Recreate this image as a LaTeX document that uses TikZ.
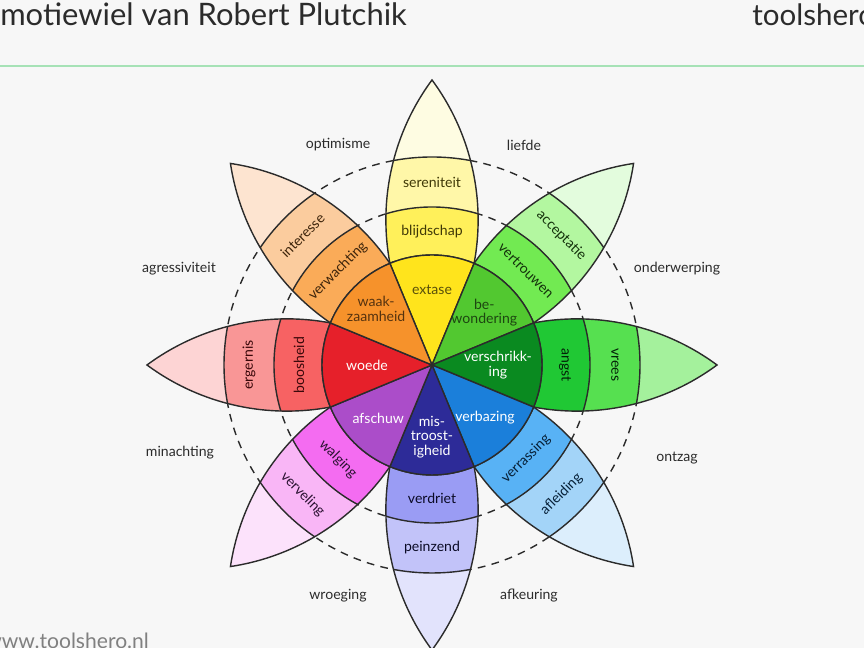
\documentclass[tikz,border=0pt]{standalone}
\usepackage{fontspec}
\setmainfont{Lato}

\definecolor{bg}{HTML}{F7F7F7}
\definecolor{rule}{HTML}{A6E2B6}
\definecolor{ink}{HTML}{2B2B2B}
\definecolor{yel0}{HTML}{FFE41C}
\definecolor{yel1}{HTML}{FFF05A}
\definecolor{yel2}{HTML}{FFF7A8}
\definecolor{yel3}{HTML}{FEFCE2}
\definecolor{grn0}{HTML}{52C830}
\definecolor{grn1}{HTML}{72EA52}
\definecolor{grn2}{HTML}{B3F7A0}
\definecolor{grn3}{HTML}{E3FCDD}
\definecolor{dgr0}{HTML}{0A8A20}
\definecolor{dgr1}{HTML}{20C834}
\definecolor{dgr2}{HTML}{56E050}
\definecolor{dgr3}{HTML}{A4F19C}
\definecolor{blu0}{HTML}{1B7FDA}
\definecolor{blu1}{HTML}{58B2F5}
\definecolor{blu2}{HTML}{A3D4F8}
\definecolor{blu3}{HTML}{DCEEFC}
\definecolor{ind0}{HTML}{2D2B98}
\definecolor{ind1}{HTML}{9A9CF4}
\definecolor{ind2}{HTML}{C2C3F9}
\definecolor{ind3}{HTML}{E2E3FC}
\definecolor{pur0}{HTML}{AB4DC9}
\definecolor{pur1}{HTML}{F46CF1}
\definecolor{pur2}{HTML}{F9B6F6}
\definecolor{pur3}{HTML}{FCE2FB}
\definecolor{red0}{HTML}{E6202A}
\definecolor{red1}{HTML}{F76263}
\definecolor{red2}{HTML}{F99696}
\definecolor{red3}{HTML}{FDD4D4}
\definecolor{org0}{HTML}{F6922B}
\definecolor{org1}{HTML}{FAAB58}
\definecolor{org2}{HTML}{FBCC9E}
\definecolor{org3}{HTML}{FDE4D0}

\begin{document}
\begin{tikzpicture}[
  x=0.025cm, y=0.025cm,
  every node/.style={font=\fontsize{10}{10.5}\selectfont, inner sep=1pt},
  rim/.style={draw=ink, line width=1pt},
  ring/.style={draw=ink, line width=1pt, dash pattern=on 5.5pt off 4.5pt},
  petal/.style={insert path={(-22.5:110)
    arc[start angle=-100.62, end angle=-53.53, radius=235.53]
    arc[start angle=53.53, end angle=100.62, radius=235.53]
    arc[start angle=22.5, end angle=-22.5, radius=110] -- cycle}},
  dyad/.style={text=ink},
  core/.style={align=center}
]
\fill[bg] (0,0) rectangle (864,648);
\useasboundingbox (0,0) rectangle (864,648);
\clip (0,0) rectangle (864,648);

% header and footer
\node[anchor=base west, inner sep=0pt, font=\fontsize{22}{24}\selectfont, text=ink] (title) at (0,622) {motiewiel van Robert Plutchik};
\node[anchor=base west, inner sep=0pt, font=\fontsize{21}{24}\selectfont, text=ink] (brand) at (752,622) {toolshero};
\draw[rule, line width=2pt] (0,582) -- (864,582);
\node[anchor=base west, inner sep=0pt, font=\fontsize{15}{16}\selectfont, text=black!50] (site) at (-15,-1) {www.toolshero.nl};

% dyads
\node[dyad] (optimisme) at (338,503) {optimisme};
\node[dyad] (liefde) at (524,503) {liefde};
\node[dyad] (onderwerping) at (677,379) {onderwerping};
\node[dyad] (ontzag) at (677,190) {ontzag};
\node[dyad] (afkeuring) at (529,52) {afkeuring};
\node[dyad] (wroeging) at (338,52) {wroeging};
\node[dyad] (minachting) at (180,195) {minachting};
\node[dyad] (agressiviteit) at (179,379) {agressiviteit};

\begin{scope}[shift={(432,283)}]
  \draw[ring] (0,0) circle (158) (0,0) circle (208);

  % petals
  \foreach \a/\cin/\cmid/\cout/\ctip/\lmid/\lout/\r [count=\i] in {
    90/yel0/yel1/yel2/yel3/blijdschap/sereniteit/0,
    45/grn0/grn1/grn2/grn3/vertrouwen/acceptatie/-45,
    0/dgr0/dgr1/dgr2/dgr3/angst/vrees/-90,
    -45/blu0/blu1/blu2/blu3/verrassing/afleiding/45,
    -90/ind0/ind1/ind2/ind3/verdriet/peinzend/0,
    -135/pur0/pur1/pur2/pur3/walging/verveling/-45,
    180/red0/red1/red2/red3/boosheid/ergernis/90,
    135/org0/org1/org2/org3/verwachting/interesse/45}
  {
    \begin{scope}[rotate=\a]
      \fill[\ctip, petal];
      \begin{scope}
        \clip[petal];
        \fill[\cout] (0,0) circle (208);
        \fill[\cmid] (0,0) circle (158);
        \draw[rim] (0,0) circle (158) (0,0) circle (208);
      \end{scope}
      \draw[rim, petal];
    \end{scope}
    \node[rotate=\r, text=\cin!25!black] (mid\i) at (\a:133) {\lmid};
    \node[rotate=\r, text=\cin!25!black] (out\i) at (\a:183) {\lout};
  }

  % inner circle
  \foreach \a/\cin/\d/\tc/\lcore [count=\i] in {
    90/yel0/75/yel0!35!black/extase,
    45/grn0/74/grn0!35!black/be-\\wondering,
    0/dgr0/66/white/verschrikk-\\ing,
    -45/blu0/75/white/verbazing,
    -90/ind0/72/white/mis-\\troost-\\igheid,
    -135/pur0/76/white/afschuw,
    180/red0/65/white/woede,
    135/org0/79/org0!35!black/waak-\\zaamheid}
  {
    \filldraw[fill=\cin, rim] (0,0) -- (\a-22.5:110)
      arc[start angle=\a-22.5, end angle=\a+22.5, radius=110] -- cycle;
    \node[core, text=\tc] (core\i) at (\a:\d) {\lcore};
  }
\end{scope}
\end{tikzpicture}
\end{document}
